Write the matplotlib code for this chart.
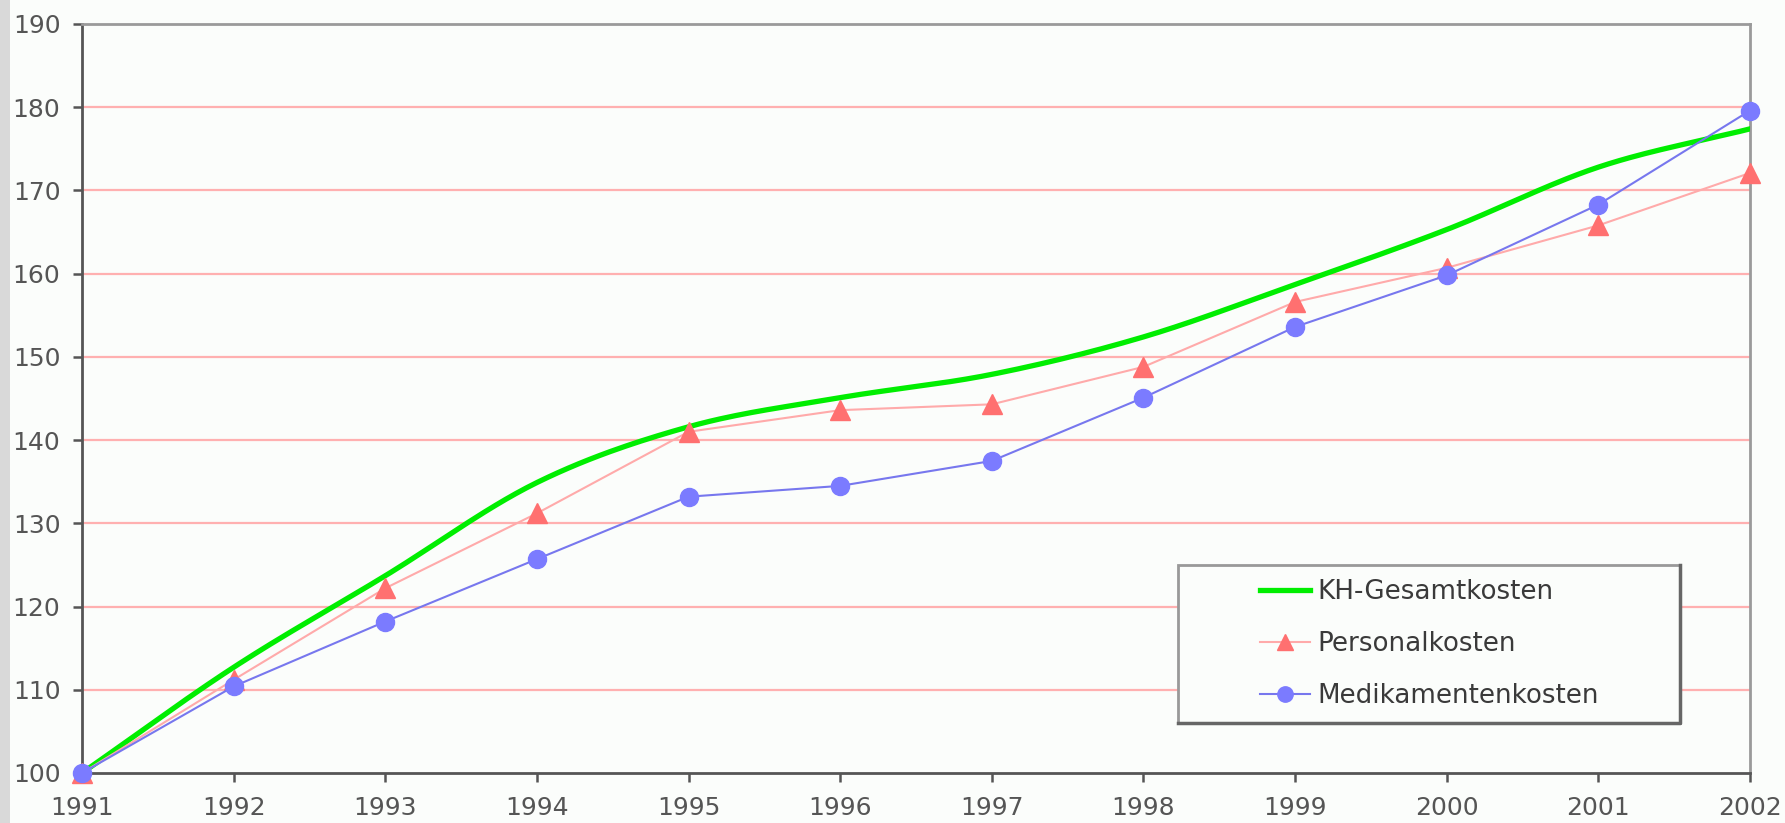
import numpy as np
import matplotlib.pyplot as plt
from matplotlib.patches import Rectangle
from matplotlib.lines import Line2D

years = [1991, 1992, 1993, 1994, 1995, 1996, 1997, 1998, 1999, 2000, 2001, 2002]
gesamt = [100, 112.7, 123.7, 134.9, 141.6, 145.1, 147.9, 152.4, 158.7, 165.3, 172.8, 177.4]
personal = [100, 111.2, 122.2, 131.2, 141.0, 143.6, 144.3, 148.8, 156.6, 160.7, 165.8, 172.1]
medikamente = [100, 110.4, 118.2, 125.7, 133.2, 134.5, 137.5, 145.1, 153.6, 159.8, 168.3, 179.6]


def smooth(x, y, n=30):
    # Catmull-Rom spline through the points (like Excel's smoothed line)
    x = np.asarray(x, float)
    y = np.asarray(y, float)
    px = np.concatenate([[2 * x[0] - x[1]], x, [2 * x[-1] - x[-2]]])
    py = np.concatenate([[2 * y[0] - y[1]], y, [2 * y[-1] - y[-2]]])
    xs, ys = [], []
    t = np.linspace(0, 1, n)
    for i in range(1, len(px) - 2):
        for p, out in ((px, xs), (py, ys)):
            p0, p1, p2, p3 = p[i - 1], p[i], p[i + 1], p[i + 2]
            out.append(0.5 * (2 * p1 + (-p0 + p2) * t
                              + (2 * p0 - 5 * p1 + 4 * p2 - p3) * t ** 2
                              + (-p0 + 3 * p1 - 3 * p2 + p3) * t ** 3))
    return np.concatenate(xs), np.concatenate(ys)


W, H = 1785, 823
fig = plt.figure(figsize=(W / 100, H / 100), dpi=100)
fig.patch.set_facecolor('#fbfdfb')
fig.add_artist(Rectangle((0, 0), 10 / W, 1, transform=fig.transFigure,
                         facecolor='#d9d9d9', edgecolor='none'))

ax = fig.add_axes([82 / W, 50 / H, 1668 / W, 749 / H])
ax.set_facecolor('#fbfdfb')

for v in range(110, 190, 10):
    ax.axhline(v, color='#ffb0b0', lw=1.6, zorder=1)

gx, gy = smooth(years, gesamt)
ax.plot(gx, gy, color='#00ee00', lw=3.8, label='KH-Gesamtkosten', zorder=3)
ax.plot(years, personal, color='#ffaaaa', lw=1.5, marker='^', ms=14,
        mfc='#ff7070', mec='#ff7070', label='Personalkosten', zorder=4, clip_on=False)
ax.plot(years, medikamente, color='#7777ee', lw=1.5, marker='o', ms=13,
        mfc='#7b7bff', mec='#7b7bff', label='Medikamentenkosten', zorder=5, clip_on=False)

ax.set_xlim(1991, 2002)
ax.set_ylim(100, 190)
ax.set_xticks(years)
ax.set_yticks(range(100, 200, 10))
ax.tick_params(axis='both', direction='out', length=6.5, width=1.8, color='#555555',
               labelsize=18, labelcolor='#555555')
ax.tick_params(axis='x', pad=10)
ax.tick_params(axis='y', pad=9)

for s in ['left', 'bottom']:
    ax.spines[s].set_color('#555555')
    ax.spines[s].set_linewidth(2)
for s in ['top', 'right']:
    ax.spines[s].set_color('#9a9a9a')
    ax.spines[s].set_linewidth(2)

# legend box with darker right/bottom edge
lx, ly, lw_, lh = 1178, 565, 502, 158
box = Rectangle((lx / W, 1 - (ly + lh) / H), lw_ / W, lh / H, transform=fig.transFigure,
                facecolor='#fbfdfb', edgecolor='#999999', lw=2, zorder=10)
fig.add_artist(box)
fig.add_artist(Line2D([(lx + lw_) / W, (lx + lw_) / W, lx / W],
                      [1 - ly / H, 1 - (ly + lh) / H, 1 - (ly + lh) / H],
                      transform=fig.transFigure, color='#666666', lw=2.5, zorder=11))
handles, labels = ax.get_legend_handles_labels()
leg = fig.legend(handles, labels, loc='center',
                 bbox_to_anchor=(lx / W, 1 - (ly + lh) / H, lw_ / W, lh / H),
                 bbox_transform=fig.transFigure, fontsize=18.8, frameon=False,
                 handlelength=1.95, handletextpad=0.25, labelspacing=1.0,
                 borderpad=0, borderaxespad=0, markerscale=0.85)
leg.set_zorder(12)
for t in leg.get_texts():
    t.set_color('#3a3a3a')

fig.savefig('out.png', dpi=100)
